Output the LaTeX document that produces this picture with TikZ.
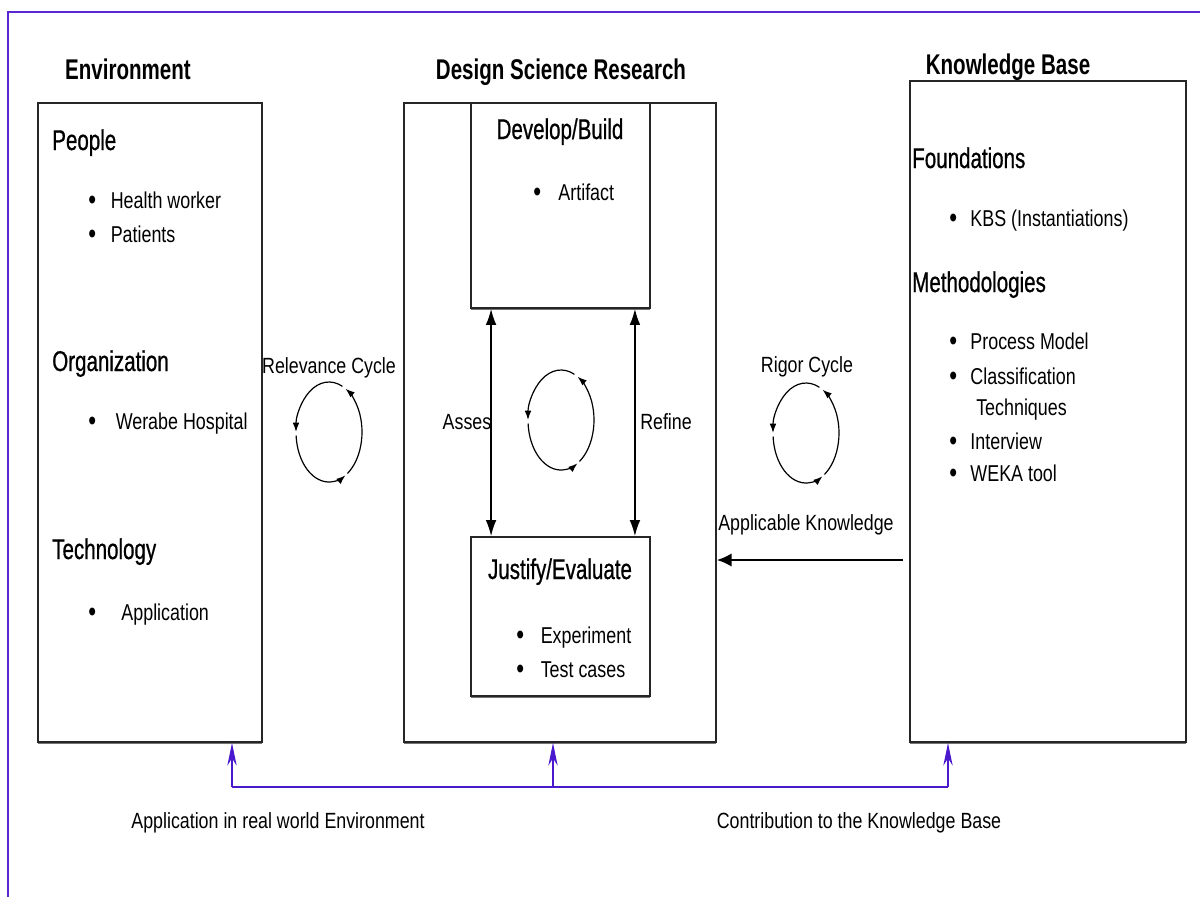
\documentclass[tikz,border=0pt]{standalone}
\usepackage{fontspec}
\setmainfont{Liberation Sans}[FakeStretch=0.78]
\newfontfamily\notefont{Liberation Sans}[FakeStretch=0.81]
\newfontfamily\titlefont{Liberation Sans}[FakeStretch=0.72]
\newfontfamily\headfont{Liberation Sans}[FakeStretch=0.72, FakeBold=0.7]
\usepackage{tikz}
\usetikzlibrary{positioning, calc, fit, arrows.meta, shadows}
\definecolor{framepurple}{RGB}{90,40,210}
\definecolor{feedpurple}{RGB}{75,25,205}
\newcommand{\bul}[1]{\raisebox{-0.07em}{\scalebox{1.25}{\textbullet}}\hspace{#1}}
\tikzset{% boxes, texts and arrows
	panel/.style={draw=black!85, fill=white, line width=1.4pt, inner sep=0pt,
		drop shadow={shadow xshift=0pt, shadow yshift=-1.6pt, fill=black!55, opacity=1}},
	title/.style={font=\titlefont\bfseries\fontsize{21.4}{24}\selectfont, anchor=base, inner sep=0pt},
	subtitle/.style={font=\headfont\fontsize{21.4}{24}\selectfont, anchor=base, inner sep=0pt},
	heading/.style={font=\headfont\fontsize{21.4}{24}\selectfont, anchor=base west, inner sep=0pt},
	item/.style={font=\fontsize{17.2}{20}\selectfont, anchor=base west, inner sep=0pt},
	note/.style={font=\notefont\fontsize{16.5}{19}\selectfont, anchor=base, inner sep=0pt},
	twoway/.style={{Latex[length=12pt,width=8pt]}-{Latex[length=12pt,width=8pt]}, line width=1pt},
	oneway/.style={-{Latex[length=11pt,width=10pt]}, line width=1.3pt},
	feed/.style={-{Stealth[length=17pt,width=7pt]}, feedpurple, line width=1.3pt},
	cyclearc/.style={-{Latex[length=7pt,width=5pt]}, line width=0.9pt},
}
\begin{document}
\begin{tikzpicture}[x=0.75pt, y=-0.75pt]
	\useasboundingbox (0,0) rectangle (1200,897);
	\draw[framepurple, line width=1.5pt] (8,897) -- (8,12) -- (1200,12);
	
	% titles
	\node[title] (envt) at (128,79) {Environment};
	\node[title] (dsrt) at (561,79) {Design Science Research};
	\node[title] (kbt) at (1008,74) {Knowledge Base};
	
	% boxes
	\node[panel, fit={(38,103) (262,742)}] (env) {};
	\node[panel, fit={(404,103) (716,742)}] (dsr) {};
	\node[panel, fit={(471,103) (650,308)}] (dev) {};
	\node[panel, fit={(471,537) (650,696)}] (jus) {};
	\node[panel, fit={(910,81) (1186,742)}] (kb) {};
	
	% environment
	\node[heading] (people) at (52,150) {People};
	\node[item] (hw) at (88,208) {\bul{11pt}Health worker};
	\node[item] (pat) at (88,242) {\bul{11pt}Patients};
	\node[heading] (org) at (52,371) {Organization};
	\node[item] (wh) at (88,429) {\bul{14.75pt}Werabe Hospital};
	\node[heading] (tech) at (52,559) {Technology};
	\node[item] (app) at (88,620) {\bul{19pt}Application};
	
	% design science research
	\node[subtitle] (devt) at (560,139) {Develop/Build};
	\node[item] (art) at (533,200) {\bul{13pt}Artifact};
	\node[subtitle] (just) at (560,579) {Justify/Evaluate};
	\node[item] (exp) at (516,643) {\bul{12.5pt}Experiment};
	\node[item] (tc) at (516,677) {\bul{12.5pt}Test cases};
	
	% knowledge base
	\node[heading] (found) at (912,168) {Foundations};
	\node[item] (kbs) at (949,226) {\bul{10pt}KBS (Instantiations)};
	\node[heading] (meth) at (912,292) {Methodologies};
	\node[item] (pm) at (949,349) {\bul{10pt}Process Model};
	\node[item] (cls) at (949,384) {\bul{10pt}Classification};
	\node[item] (tq) at (976,415) {Techniques};
	\node[item] (iv) at (949,449) {\bul{10pt}Interview};
	\node[item] (weka) at (949,481) {\bul{10pt}WEKA tool};
	
	% labels
	\node[note] (relt) at (329,373) {Relevance Cycle};
	\node[note] (rigt) at (807,372) {Rigor Cycle};
	\node[note] (asses) at (467,429) {Asses};
	\node[note] (refine) at (666,429) {Refine};
	\node[note] (akt) at (806,530) {Applicable Knowledge};
	\node[note] (appt) at (278,828) {Application in real world Environment};
	\node[note] (cont) at (859,828) {Contribution to the Knowledge Base};
	
	% assess / refine
	\draw[twoway] ([xshift=15.75pt]dev.south west) -- ([xshift=15.75pt]jus.north west);
	\draw[twoway] ([xshift=-12pt]dev.south east) -- ([xshift=-12pt]jus.north east);
	
	% applicable knowledge
	\coordinate (akstart) at (903,560);
	\draw[oneway] (akstart) -- (akstart -| dsr.east);
	
	% feedback to the three boxes
	\coordinate (envfoot) at (232,787);
	\coordinate (dsrfoot) at (553,787);
	\coordinate (kbfoot) at (948,787);
	\draw[feedpurple, line width=1.3pt] (envfoot) -- (kbfoot);
	\foreach \f/\b in {envfoot/env, dsrfoot/dsr, kbfoot/kb}
		\draw[feed] (\f) -- (\f |- \b.south);
	
	% cycles
	\coordinate (relc) at (329,432);
	\coordinate (dsrc) at (561,420);
	\coordinate (rigc) at (806,433);
	\foreach \c in {relc, dsrc, rigc} {
		\draw[cyclearc] (\c) ++(-66:33 and 50) arc[start angle=-66, end angle=-180, x radius=33, y radius=50];
		\draw[cyclearc] (\c) ++(-184:33 and 50) arc[start angle=-184, end angle=-300, x radius=33, y radius=50];
		\draw[cyclearc] (\c) ++(-304:33 and 50) arc[start angle=-304, end angle=-420, x radius=33, y radius=50];
	}
\end{tikzpicture}
\end{document}
